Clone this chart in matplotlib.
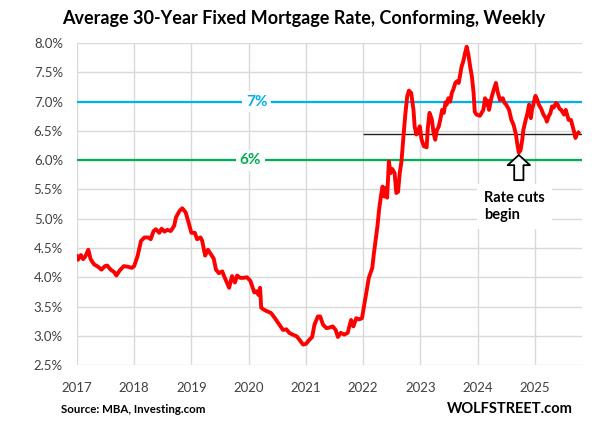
import matplotlib.pyplot as plt

# weekly 30-year fixed rate (decimal year, percent)
dates = [
    2017.00, 2017.02, 2017.07, 2017.11, 2017.15, 2017.20, 2017.24, 2017.30, 2017.37, 2017.43,
    2017.49, 2017.53, 2017.59, 2017.65, 2017.69, 2017.75, 2017.82, 2017.89, 2017.96, 2018.00,
    2018.06, 2018.12, 2018.18, 2018.25, 2018.29, 2018.34, 2018.38, 2018.44, 2018.48, 2018.53,
    2018.58, 2018.64, 2018.70, 2018.73, 2018.79, 2018.84, 2018.90, 2018.95, 2019.00, 2019.06,
    2019.10, 2019.16, 2019.19, 2019.24, 2019.29, 2019.35, 2019.39, 2019.43, 2019.48, 2019.54,
    2019.58, 2019.62, 2019.66, 2019.71, 2019.76, 2019.80, 2019.85, 2019.91, 2019.97, 2020.03,
    2020.10, 2020.14, 2020.17, 2020.20, 2020.22, 2020.26, 2020.32, 2020.39, 2020.46, 2020.53,
    2020.60, 2020.66, 2020.71, 2020.77, 2020.84, 2020.89, 2020.95, 2021.00, 2021.06, 2021.11,
    2021.15, 2021.21, 2021.25, 2021.30, 2021.36, 2021.41, 2021.47, 2021.52, 2021.56, 2021.61,
    2021.67, 2021.73, 2021.79, 2021.83, 2021.88, 2021.93, 2021.98, 2022.02, 2022.05, 2022.10,
    2022.16, 2022.19, 2022.22, 2022.25, 2022.28, 2022.31, 2022.34, 2022.37, 2022.40, 2022.42,
    2022.45, 2022.48, 2022.51, 2022.55, 2022.58, 2022.61, 2022.64, 2022.67, 2022.71, 2022.74,
    2022.77, 2022.80, 2022.84, 2022.88, 2022.90, 2022.93, 2022.96, 2022.99, 2023.02, 2023.06,
    2023.11, 2023.13, 2023.16, 2023.20, 2023.23, 2023.26, 2023.29, 2023.32, 2023.35, 2023.38,
    2023.41, 2023.44, 2023.46, 2023.49, 2023.52, 2023.55, 2023.58, 2023.61, 2023.64, 2023.67,
    2023.70, 2023.72, 2023.75, 2023.78, 2023.81, 2023.84, 2023.87, 2023.90, 2023.93, 2023.95,
    2023.98, 2024.04, 2024.10, 2024.13, 2024.16, 2024.17, 2024.20, 2024.24, 2024.28, 2024.32,
    2024.35, 2024.39, 2024.44, 2024.47, 2024.50, 2024.55, 2024.59, 2024.63, 2024.67, 2024.69,
    2024.72, 2024.75, 2024.78, 2024.80, 2024.84, 2024.87, 2024.90, 2024.93, 2024.95, 2024.98,
    2025.01, 2025.04, 2025.07, 2025.11, 2025.15, 2025.19, 2025.21, 2025.24, 2025.27, 2025.30,
    2025.33, 2025.37, 2025.40, 2025.43, 2025.46, 2025.49, 2025.51, 2025.54, 2025.59, 2025.63,
    2025.66, 2025.69, 2025.71, 2025.73, 2025.76,
]
rates = [
    4.36, 4.30, 4.38, 4.31, 4.36, 4.47, 4.31, 4.22, 4.18, 4.13,
    4.19, 4.20, 4.13, 4.09, 4.03, 4.12, 4.19, 4.18, 4.16, 4.19,
    4.36, 4.62, 4.68, 4.68, 4.65, 4.79, 4.82, 4.76, 4.83, 4.78,
    4.81, 4.79, 4.88, 5.02, 5.13, 5.18, 5.11, 4.94, 4.76, 4.76,
    4.65, 4.68, 4.62, 4.37, 4.47, 4.38, 4.32, 4.13, 4.07, 4.10,
    4.00, 3.91, 3.82, 4.02, 3.91, 4.03, 3.99, 3.99, 4.00, 3.94,
    3.74, 3.76, 3.70, 3.82, 3.48, 3.45, 3.42, 3.39, 3.30, 3.20,
    3.10, 3.11, 3.05, 3.02, 2.99, 2.93, 2.85, 2.86, 2.93, 2.98,
    3.19, 3.33, 3.33, 3.19, 3.13, 3.14, 3.16, 3.10, 2.98, 3.05,
    3.02, 3.05, 3.27, 3.16, 3.30, 3.28, 3.30, 3.53, 3.70, 3.99,
    4.16, 4.42, 4.65, 4.87, 5.16, 5.38, 5.55, 5.38, 5.53, 5.36,
    5.98, 5.78, 5.85, 5.78, 5.44, 5.46, 5.78, 5.98, 6.47, 6.81,
    7.09, 7.19, 7.15, 6.86, 6.58, 6.44, 6.50, 6.58, 6.36, 6.24,
    6.22, 6.55, 6.81, 6.70, 6.47, 6.35, 6.52, 6.57, 6.70, 6.86,
    6.81, 6.99, 6.95, 7.06, 7.00, 7.15, 7.22, 7.32, 7.35, 7.32,
    7.49, 7.60, 7.69, 7.83, 7.94, 7.80, 7.60, 7.43, 7.15, 6.83,
    6.78, 6.76, 6.86, 7.06, 6.95, 7.02, 6.86, 7.06, 7.20, 7.32,
    7.17, 7.03, 7.06, 6.98, 6.95, 6.86, 6.69, 6.60, 6.44, 6.30,
    6.13, 6.17, 6.35, 6.52, 6.69, 6.80, 6.95, 6.72, 6.86, 6.98,
    7.10, 7.04, 6.95, 6.88, 6.78, 6.72, 6.66, 6.75, 6.80, 6.92,
    6.90, 6.98, 6.95, 6.88, 6.86, 6.81, 6.78, 6.86, 6.69, 6.69,
    6.58, 6.47, 6.38, 6.44, 6.47,
]

years = list(range(2017, 2026))
yticks = [2.5, 3.0, 3.5, 4.0, 4.5, 5.0, 5.5, 6.0, 6.5, 7.0, 7.5, 8.0]
ref_lines = [(7.0, '7%', '#00B0F0'), (6.0, '6%', '#00B050')]
recent_level = 6.45
recent_start = 2022.0
cut_date, cut_low = 2024.72, 6.09

plt.rcParams['font.family'] = ['Lato', 'DejaVu Sans']

fig = plt.figure(figsize=(6.15, 4.32), dpi=100)
ax = fig.add_axes([0.125, 0.155, 0.821, 0.745])

for lvl, lab, col in ref_lines:
    ax.axhline(lvl, color=col, lw=1.6, zorder=2)
ax.text(2020.14, 7.0, '7%', color='#00B0F0', fontsize=11, fontweight='bold',
        ha='center', va='center', zorder=3,
        bbox=dict(fc='white', ec='none', pad=2.5))
ax.text(2020.03, 6.0, '6%', color='#00B050', fontsize=11, fontweight='bold',
        ha='center', va='center', zorder=3,
        bbox=dict(fc='white', ec='none', pad=2.5))

ax.hlines(recent_level, recent_start, 2025.82, color='#222222', lw=1.0, zorder=4)

ax.plot(dates, rates, color='#FF0000', lw=2.8, zorder=5)

ax.annotate('', xy=(cut_date, cut_low), xytext=(cut_date, 5.66),
            arrowprops=dict(arrowstyle='simple,head_width=2.3,head_length=1.05,tail_width=0.95',
                            mutation_scale=7, fc='white', ec='black', lw=1.3,
                            shrinkA=0, shrinkB=0), zorder=6)
ax.text(2024.12, 5.21, 'Rate cuts\nbegin', fontsize=10.5, fontweight='bold',
        ha='left', va='center', linespacing=1.35, zorder=6,
        bbox=dict(fc='white', ec='none', pad=5))

ax.set_xlim(2017, 2025.82)
ax.set_ylim(2.5, 8.0)
ax.set_xticks(years)
ax.set_xticklabels([str(y) for y in years])
ax.set_yticks(yticks)
ax.set_yticklabels(['%.1f%%' % v for v in yticks])
ax.grid(True, color='#D9D9D9', lw=1.0, zorder=0)
ax.set_axisbelow(True)
for s in ax.spines.values():
    s.set_visible(False)
ax.tick_params(length=0, labelsize=9.5, labelcolor='#404040')
ax.tick_params(axis='y', pad=10)
ax.tick_params(axis='x', pad=12)

fig.text(0.494, 0.958, 'Average 30-Year Fixed Mortgage Rate, Conforming, Weekly',
         ha='center', va='center', fontsize=13, fontweight='bold')
fig.text(0.099, 0.053, 'Source: MBA, Investing.com', ha='left', va='center',
         fontsize=8.3, fontweight='bold')
fig.text(0.932, 0.053, 'WOLFSTREET.com', ha='right', va='center',
         fontsize=10.5, fontweight='bold')

fig.savefig('out.png', dpi=100)
